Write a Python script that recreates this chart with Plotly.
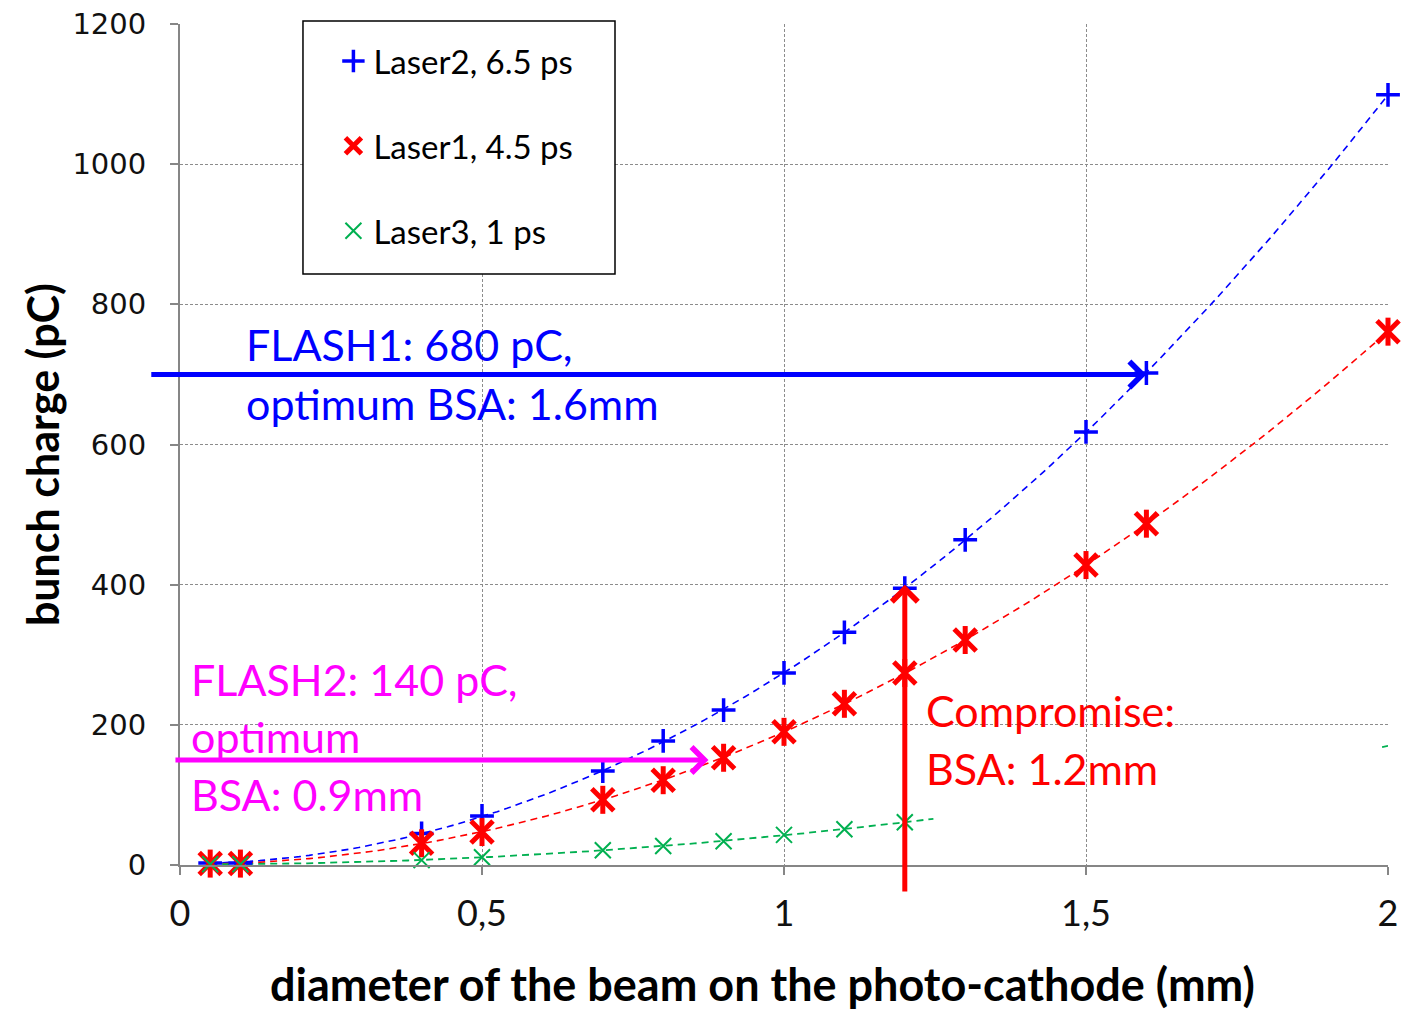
import numpy as np
import plotly.graph_objects as go

# Beam diameter on the photo-cathode (mm) and measured bunch charge (pC)
diameter_mm = [0.05, 0.1, 0.4, 0.5, 0.7, 0.8, 0.9, 1.0, 1.1, 1.2, 1.3, 1.5, 1.6, 2.0]
laser2_pc = [3, 3, 45, 70, 134, 177, 221, 274, 332, 395, 464, 618, 702, 1099]
laser1_pc = [2, 2, 31, 47, 93, 121, 153, 190, 230, 274, 321, 428, 487, 761]
laser3_diam = [0.05, 0.1, 0.4, 0.5, 0.7, 0.8, 0.9, 1.0, 1.1, 1.2]
laser3_pc = [1, 1, 7, 11, 21, 27, 34, 43, 51, 61]

x_ticks = [0, 0.5, 1, 1.5, 2]
x_tick_text = ["0", "0,5", "1", "1,5", "2"]
y_ticks = [0, 200, 400, 600, 800, 1000, 1200]

# Operating points marked by arrows
flash1_bsa, flash1_q = 1.6, 700
flash2_bsa, flash2_q = 0.875, 150
compromise_bsa, compromise_q = 1.2, 400

BLUE = "#0000ff"
RED = "#ff0000"
GREEN = "#00b050"
MAGENTA = "#ff00ff"
AXIS_GREY = "#868686"


def quad_trend(xs, ys, x_from, x_to, n=120):
    """Second-order polynomial trendline through a series."""
    coef = np.polyfit(xs, ys, 2)
    xt = np.linspace(x_from, x_to, n)
    return xt, np.polyval(coef, xt)


fig = go.Figure()

# Dashed trendlines
tx, ty = quad_trend(diameter_mm, laser2_pc, 0.05, 2.0)
fig.add_trace(go.Scatter(x=tx, y=ty, mode="lines", showlegend=False, hoverinfo="skip",
                         line=dict(color=BLUE, width=1.6, dash="7px,5px")))
tx, ty = quad_trend(diameter_mm, laser1_pc, 0.05, 2.0)
fig.add_trace(go.Scatter(x=tx, y=ty, mode="lines", showlegend=False, hoverinfo="skip",
                         line=dict(color=RED, width=1.6, dash="7px,5px")))
# Laser3 trend is masked by the text box between ~1.25 and ~1.99 mm
tx, ty = quad_trend(laser3_diam, laser3_pc, 0.05, 2.0, n=400)
ty = np.where((tx > 1.25) & (tx < 1.988), np.nan, ty)
fig.add_trace(go.Scatter(x=tx, y=ty, mode="lines", showlegend=False, hoverinfo="skip",
                         connectgaps=False,
                         line=dict(color=GREEN, width=1.8, dash="7px,5px")))

# Data markers
fig.add_trace(go.Scatter(
    x=diameter_mm, y=laser2_pc, mode="markers", name="Laser2, 6.5 ps",
    legendgroup="l2", cliponaxis=False,
    marker=dict(symbol="cross-thin", size=17, line=dict(color=BLUE, width=3.5))))
fig.add_trace(go.Scatter(
    x=diameter_mm, y=laser1_pc, mode="markers", name="Laser1, 4.5 ps",
    legendgroup="l1", cliponaxis=False,
    marker=dict(symbol="x-thin", size=22, line=dict(color=RED, width=5))))
fig.add_trace(go.Scatter(
    x=diameter_mm, y=laser1_pc, mode="markers", showlegend=False,
    legendgroup="l1", cliponaxis=False, hoverinfo="skip",
    marker=dict(symbol="line-ns", size=20, line=dict(color=RED, width=5))))
fig.add_trace(go.Scatter(
    x=laser3_diam, y=laser3_pc, mode="markers", name="Laser3, 1 ps",
    legendgroup="l3", cliponaxis=False,
    marker=dict(symbol="x-thin", size=16, line=dict(color=GREEN, width=2))))

TEXT_FONT = "Lato, Calibri, sans-serif"
annotations = []

# Arrows
annotations.append(dict(x=flash1_bsa, y=flash1_q, ax=-0.05, ay=flash1_q,
                        xref="x", yref="y", axref="x", ayref="y", text="",
                        showarrow=True, arrowhead=4, arrowsize=1, arrowwidth=5,
                        arrowcolor=BLUE, standoff=0))
annotations.append(dict(x=flash2_bsa, y=flash2_q, ax=-0.01, ay=flash2_q,
                        xref="x", yref="y", axref="x", ayref="y", text="",
                        showarrow=True, arrowhead=4, arrowsize=1, arrowwidth=5,
                        arrowcolor=MAGENTA, standoff=0))
annotations.append(dict(x=compromise_bsa, y=compromise_q, ax=compromise_bsa, ay=-40,
                        xref="x", yref="y", axref="x", ayref="y", text="",
                        showarrow=True, arrowhead=4, arrowsize=1, arrowwidth=5,
                        arrowcolor=RED, standoff=0))


def label(text, x, y, color):
    annotations.append(dict(x=x, y=y, xref="x", yref="y", text=text, showarrow=False,
                            xanchor="left", yanchor="middle",
                            font=dict(family=TEXT_FONT, size=43, color=color)))


label("FLASH1: 680 pC,", 0.106, 742, BLUE)
label("optimum BSA: 1.6mm", 0.106, 659, BLUE)
label("FLASH2: 140 pC,", 0.015, 264, MAGENTA)
label("optimum", 0.015, 183, MAGENTA)
label("BSA: 0.9mm", 0.015, 100, MAGENTA)
label("Compromise:", 1.232, 221, RED)
label("BSA: 1.2mm", 1.232, 138, RED)

# Axis titles
annotations.append(dict(x=0.4826, y=-0.141, xref="paper", yref="paper",
                        text="<b>diameter of the beam on the photo-cathode (mm)</b>",
                        showarrow=False, xanchor="center", yanchor="middle",
                        font=dict(family=TEXT_FONT, size=45, color="black")))
annotations.append(dict(x=-0.1142, y=0.4875, xref="paper", yref="paper",
                        text="<b>bunch charge (pC)</b>", textangle=-90,
                        showarrow=False, xanchor="center", yanchor="middle",
                        font=dict(family=TEXT_FONT, size=43, color="black")))

fig.update_layout(
    width=1410, height=1010,
    margin=dict(l=180, r=22, t=24, b=145),
    paper_bgcolor="white", plot_bgcolor="white",
    annotations=annotations,
    shapes=[dict(type="rect", xref="paper", yref="paper",
                 x0=0.1018, x1=0.3601, y0=0.7027, y1=1.0036,
                 line=dict(color="black", width=1.5), fillcolor="white", layer="above")],
    legend=dict(x=0.127, y=0.9893, xanchor="left", yanchor="top",
                bgcolor="rgba(0,0,0,0)", borderwidth=0,
                traceorder="grouped", tracegroupgap=39,
                font=dict(family=TEXT_FONT, size=33, color="black")),
)

fig.update_xaxes(
    range=[0, 2], tickvals=x_ticks, ticktext=x_tick_text, automargin=False,
    showline=True, linecolor=AXIS_GREY, linewidth=2,
    ticks="outside", ticklen=8, tickwidth=2, tickcolor=AXIS_GREY,
    showgrid=True, gridcolor="#8c8c8c", gridwidth=1, griddash="3px,2px",
    zeroline=False, ticklabelstandoff=8,
    tickfont=dict(family=TEXT_FONT, size=36, color="#111"),
)
fig.update_yaxes(
    range=[0, 1200], tickvals=y_ticks, automargin=False,
    showline=True, linecolor=AXIS_GREY, linewidth=2,
    ticks="outside", ticklen=8, tickwidth=2, tickcolor=AXIS_GREY,
    showgrid=True, gridcolor="#8c8c8c", gridwidth=1, griddash="3px,2px",
    zeroline=False, ticklabelstandoff=18,
    tickfont=dict(family="DejaVu Sans, Verdana, sans-serif", size=29, color="#111"),
)

fig.write_html("out.html")
